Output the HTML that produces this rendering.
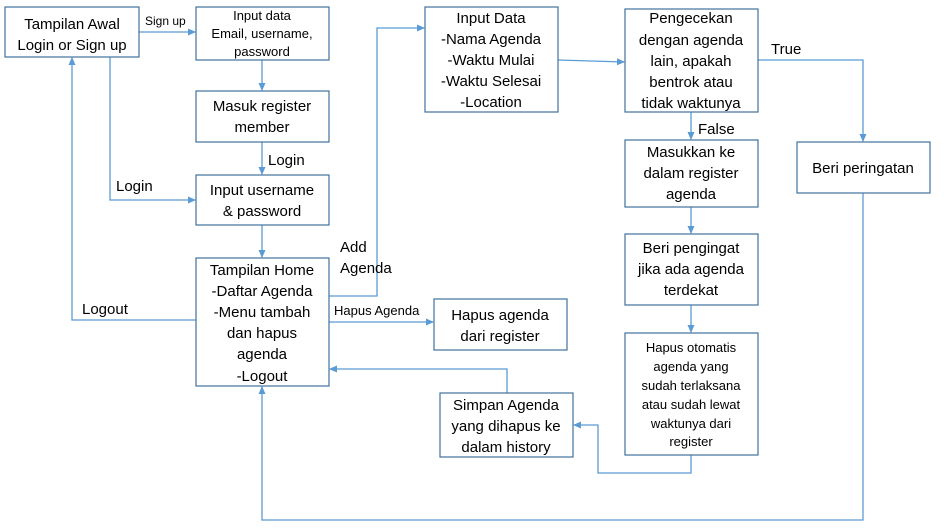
<!DOCTYPE html>
<html><head><meta charset="utf-8"><style>
body{margin:0;background:#fff}
svg{display:block}
text{font-family:"Liberation Sans",sans-serif;fill:#000}
</style></head><body>
<svg width="944" height="531" viewBox="0 0 944 531" xmlns="http://www.w3.org/2000/svg">
<defs><marker id="a" markerWidth="8" markerHeight="8" refX="7" refY="4" orient="auto" markerUnits="userSpaceOnUse"><path d="M0,0.5 L8,4 L0,7.5z" fill="#5B9BD5"/></marker></defs>
<g fill="none" stroke="#5B9BD5" stroke-width="1.3">
<path d="M139,32 H195" marker-end="url(#a)"/>
<path d="M262,60 V90" marker-end="url(#a)"/>
<path d="M262,142 V174" marker-end="url(#a)"/>
<path d="M196,320 H72 V58" marker-end="url(#a)"/>
<path d="M110,57 V200 H195" marker-end="url(#a)"/>
<path d="M262,225 V257" marker-end="url(#a)"/>
<path d="M329,296 H377 V28 H424" marker-end="url(#a)"/>
<path d="M329,322 H433" marker-end="url(#a)"/>
<path d="M558,60 L624,62" marker-end="url(#a)"/>
<path d="M691,112 V139" marker-end="url(#a)"/>
<path d="M758,60 H863 V141" marker-end="url(#a)"/>
<path d="M691,207 V233" marker-end="url(#a)"/>
<path d="M691,305 V332" marker-end="url(#a)"/>
<path d="M691,455 V473 H598 V425 H574" marker-end="url(#a)"/>
<path d="M507,393 V369 H330" marker-end="url(#a)"/>
<path d="M863,193 V520 H262 V387" marker-end="url(#a)"/>
</g>
<g fill="#fff" stroke="#41719C" stroke-width="1.2">
<rect x="5" y="7" width="134" height="50"/>
<rect x="196" y="7" width="133" height="53"/>
<rect x="196" y="91" width="133" height="51"/>
<rect x="196" y="175" width="133" height="50"/>
<rect x="196" y="258" width="133" height="128"/>
<rect x="434" y="299" width="133" height="51"/>
<rect x="440" y="393" width="133" height="64"/>
<rect x="425" y="7" width="133" height="105"/>
<rect x="625" y="9" width="133" height="103"/>
<rect x="625" y="140" width="133" height="67"/>
<rect x="625" y="234" width="133" height="71"/>
<rect x="625" y="333" width="133" height="122"/>
<rect x="797" y="142" width="133" height="51"/>
</g>
<g font-size="15" text-anchor="middle">
<text x="72" y="29">Tampilan Awal</text><text x="72" y="50">Login or Sign up</text>
<text x="262" y="20" font-size="13">Input data</text><text x="262" y="38" font-size="13">Email, username,</text><text x="262" y="56" font-size="13">password</text>
<text x="262" y="111">Masuk register</text><text x="262" y="132">member</text>
<text x="262" y="195">Input username</text><text x="262" y="216">&amp; password</text>
<text x="262" y="275">Tampilan Home</text><text x="262" y="296">-Daftar Agenda</text><text x="262" y="317">-Menu tambah</text><text x="262" y="338">dan hapus</text><text x="262" y="359">agenda</text><text x="262" y="381">-Logout</text>
<text x="500" y="320">Hapus agenda</text><text x="500" y="341">dari register</text>
<text x="506" y="410">Simpan Agenda</text><text x="506" y="431">yang dihapus ke</text><text x="506" y="452">dalam history</text>
<text x="491" y="23">Input Data</text><text x="491" y="44">-Nama Agenda</text><text x="491" y="65">-Waktu Mulai</text><text x="491" y="86">-Waktu Selesai</text><text x="491" y="107">-Location</text>
<text x="691" y="23">Pengecekan</text><text x="691" y="45">dengan agenda</text><text x="691" y="66">lain, apakah</text><text x="691" y="87">bentrok atau</text><text x="691" y="108">tidak waktunya</text>
<text x="691" y="157">Masukkan ke</text><text x="691" y="178">dalam register</text><text x="691" y="199">agenda</text>
<text x="691" y="253">Beri pengingat</text><text x="691" y="274">jika ada agenda</text><text x="691" y="295">terdekat</text>
<g font-size="13"><text x="691" y="352">Hapus otomatis</text><text x="691" y="371">agenda yang</text><text x="691" y="390">sudah terlaksana</text><text x="691" y="409">atau sudah lewat</text><text x="691" y="428">waktunya dari</text><text x="691" y="446">register</text></g>
<text x="863" y="173">Beri peringatan</text>
</g>
<g font-size="15">
<text x="145" y="25" font-size="12">Sign up</text>
<text x="268" y="165">Login</text>
<text x="116" y="191">Login</text>
<text x="82" y="314">Logout</text>
<text x="340" y="252">Add</text><text x="340" y="273">Agenda</text>
<text x="334" y="315" font-size="13">Hapus Agenda</text>
<text x="698" y="134">False</text>
<text x="771" y="54">True</text>
</g>
</svg>
</body></html>
